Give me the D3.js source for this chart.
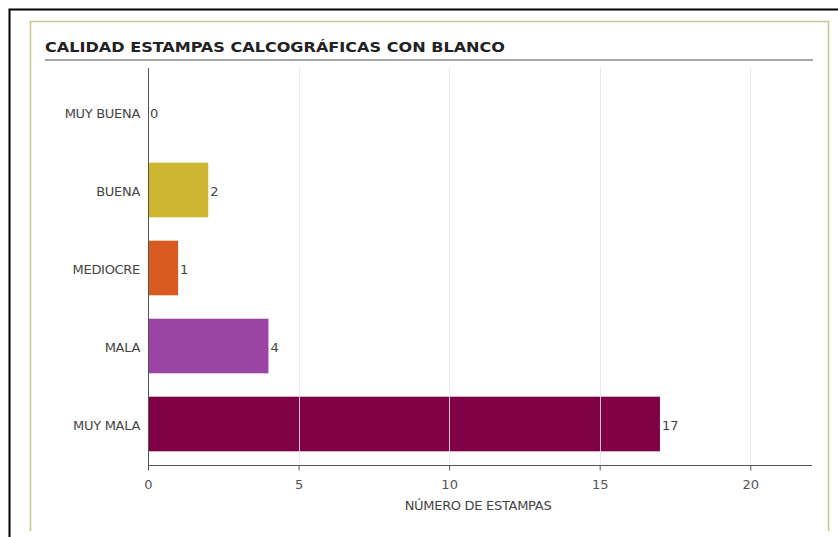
<!DOCTYPE html>
<html><head><meta charset="utf-8">
<script src="https://cdn.jsdelivr.net/npm/d3@7"></script>
<style>body{margin:0;background:#fff;}svg{display:block;}</style>
</head><body>
<svg id="c" width="838" height="537"></svg>
<script>
const categories = ["MUY BUENA", "BUENA", "MEDIOCRE", "MALA", "MUY MALA"];
const values = [0, 2, 1, 4, 17];
const colors = ["#CDB631", "#CDB631", "#D95B22", "#9A44A3", "#800046"];
const xTicks = [0, 5, 10, 15, 20];
const title = "CALIDAD ESTAMPAS CALCOGRÁFICAS CON BLANCO";
const xTitle = "NÚMERO DE ESTAMPAS";

const svg = d3.select("#c");
const font = "Verdana, 'DejaVu Sans', sans-serif";

// outer frames
svg.append("path").attr("d", "M9.5,537 V9.5 H838").attr("fill", "none").attr("stroke", "#000").attr("stroke-width", 2);
svg.append("path").attr("d", "M30.5,531 V21.5 H828.5 V531").attr("fill", "none").attr("stroke", "#c8c48a").attr("stroke-width", 1.5);

// title
svg.append("text").attr("x", 45).attr("y", 52).attr("font-family", "'DejaVu Sans Condensed', 'DejaVu Sans', sans-serif")
  .attr("font-weight", "bold").attr("font-size", 14).attr("fill", "#222")
  .attr("textLength", 460).attr("lengthAdjust", "spacingAndGlyphs").text(title);
svg.append("line").attr("x1", 45).attr("x2", 813).attr("y1", 60).attr("y2", 60).attr("stroke", "#8a8a8a").attr("stroke-width", 1.5);

const x = d3.scaleLinear().domain([0, 22.05]).range([148, 812]);
const y = d3.scaleBand().domain(categories).range([73, 463]).paddingInner(0.3).paddingOuter(0.15);

const g = svg.append("g");

// bars
g.selectAll("rect.bar").data(categories).join("rect").attr("class", "bar")
  .attr("x", x(0)).attr("y", d => y(d))
  .attr("width", (d, i) => x(values[i]) - x(0)).attr("height", y.bandwidth())
  .attr("fill", (d, i) => colors[i]);

// grid
g.selectAll("line.grid").data(xTicks.filter(t => t > 0)).join("line").attr("class", "grid")
  .attr("x1", d => Math.round(x(d)) + 0.5).attr("x2", d => Math.round(x(d)) + 0.5)
  .attr("y1", 68).attr("y2", 465).attr("stroke", "#e6e6e6").attr("stroke-opacity", 0.85);

// x axis
const xAxis = g.append("g").attr("transform", "translate(0,465.5)")
  .call(d3.axisBottom(x).tickValues(xTicks).tickSize(5).tickPadding(9).tickSizeOuter(0));
xAxis.select(".domain").attr("stroke", "#555").attr("d", "M148,0H812");
xAxis.selectAll(".tick line").attr("stroke", "#555");
xAxis.selectAll(".tick text").attr("font-family", font).attr("font-size", 13).attr("fill", "#555");

// y axis line
g.append("line").attr("x1", 148.5).attr("x2", 148.5).attr("y1", 68).attr("y2", 466).attr("stroke", "#555");

// y labels
g.selectAll("text.cat").data(categories).join("text").attr("class", "cat")
  .attr("x", 140).attr("y", d => y(d) + y.bandwidth() / 2 + 6)
  .attr("text-anchor", "end").attr("font-family", font).attr("font-size", 13).attr("fill", "#444")
  .attr("letter-spacing", -0.3).text(d => d);

// value labels
g.selectAll("text.val").data(categories).join("text").attr("class", "val")
  .attr("x", (d, i) => x(values[i]) + 2).attr("y", d => y(d) + y.bandwidth() / 2 + 6)
  .attr("font-family", font).attr("font-size", 13).attr("fill", "#444")
  .text((d, i) => values[i]);

// axis title
svg.append("text").attr("x", 478).attr("y", 510).attr("text-anchor", "middle")
  .attr("font-family", font).attr("font-size", 13).attr("fill", "#444").attr("letter-spacing", -0.3).text(xTitle);
</script>
</body></html>
